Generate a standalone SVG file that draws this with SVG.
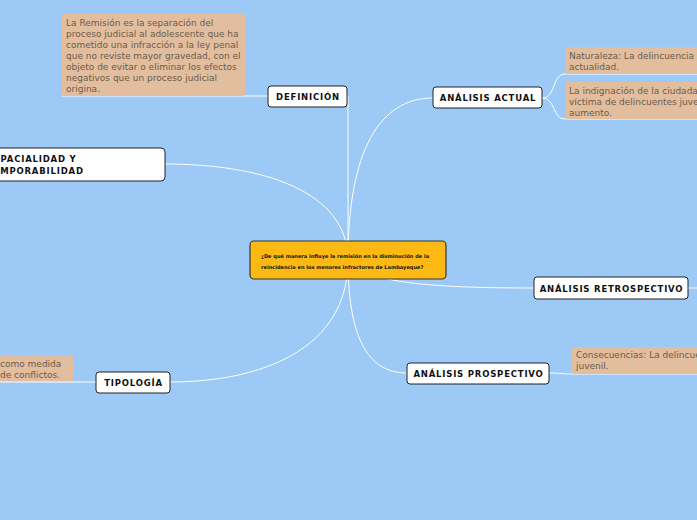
<svg xmlns="http://www.w3.org/2000/svg" width="697" height="520" viewBox="0 0 697 520">
<style>
.box{fill:#fff;stroke:#222;stroke-width:1}
.lbl{font-family:"DejaVu Sans",Verdana,sans-serif;font-weight:bold;font-size:8.5px;letter-spacing:0.8px;fill:#111}
.note{fill:#e3be9e}
.nt{font-family:"DejaVu Sans",Verdana,sans-serif;font-size:9px;fill:#6b5b4c}
.con{fill:none;stroke:#fff;stroke-width:1}
.ct{font-family:"DejaVu Sans",Verdana,sans-serif;font-weight:bold;font-size:5.05px;fill:#111}
</style>
<rect width="697" height="520" fill="#9cc9f5"/>
<g id="connectors">
<path class="con" d="M348,260 C348,200 348,130 348,96 L347,96"/>
<path class="con" d="M348,260 C348,190 260,164 165,164"/>
<path class="con" d="M348,260 C348,150 380,98 433,98"/>
<path class="con" d="M348,260 C365,284 440,288 534,288"/>
<path class="con" d="M688,288 L697,288"/>
<path class="con" d="M348,260 C348,345 372,373 407,373"/>
<path class="con" d="M348,260 C348,350 260,382 170,382"/>
<path class="con" d="M268,96 L62,96"/>
<path class="con" d="M96,382 L0,382"/>
<path class="con" d="M542,98 C556,98 552,74 565,74 L697,74"/>
<path class="con" d="M542,98 C556,98 552,119 565,119 L697,119"/>
<path class="con" d="M549,373 C560,373 562,374 572,374 L697,374"/>
</g>
<g id="note-definicion">
<rect class="note" x="62" y="14" width="183" height="82" rx="2"/>
<text class="nt" x="66" y="26">La Remisión es la separación del</text>
<text class="nt" x="66" y="37">proceso judicial al adolescente que ha</text>
<text class="nt" x="66" y="48">cometido una infracción a la ley penal</text>
<text class="nt" x="66" y="59">que no reviste mayor gravedad, con el</text>
<text class="nt" x="66" y="70">objeto de evitar o eliminar los efectos</text>
<text class="nt" x="66" y="81">negativos que un proceso judicial</text>
<text class="nt" x="66" y="92">origina.</text>
</g>
<g id="definicion">
<rect class="box" x="268" y="86" width="79" height="21" rx="3"/>
<text class="lbl" x="308" y="100" text-anchor="middle">DEFINICIÓN</text>
</g>
<g id="espacialidad">
<rect class="box" x="-20" y="148" width="185" height="33" rx="4"/>
<text class="lbl" x="-13" y="162">ESPACIALIDAD Y</text>
<text class="lbl" x="-13" y="174">TEMPORABILIDAD</text>
</g>
<g id="analisis-actual">
<rect class="box" x="433" y="87" width="109" height="21" rx="3"/>
<text class="lbl" x="488" y="101" text-anchor="middle">ANÁLISIS ACTUAL</text>
</g>
<g id="note-naturaleza">
<rect class="note" x="565" y="47" width="140" height="27" rx="2"/>
<text class="nt" x="569" y="59">Naturaleza: La delincuencia</text>
<text class="nt" x="569" y="70">actualidad.</text>
</g>
<g id="note-indignacion">
<rect class="note" x="565" y="82" width="140" height="37" rx="2"/>
<text class="nt" x="569" y="94">La indignación de la ciudada</text>
<text class="nt" x="569" y="105">víctima de delincuentes juve</text>
<text class="nt" x="569" y="116">aumento.</text>
</g>
<g id="analisis-retrospectivo">
<rect class="box" x="534" y="277" width="154" height="22" rx="3"/>
<text class="lbl" x="611.5" y="291.5" text-anchor="middle">ANÁLISIS RETROSPECTIVO</text>
</g>
<g id="analisis-prospectivo">
<rect class="box" x="407" y="363" width="142" height="21" rx="3"/>
<text class="lbl" x="478.5" y="377" text-anchor="middle">ANÁLISIS PROSPECTIVO</text>
</g>
<g id="note-consecuencias">
<rect class="note" x="572" y="347" width="135" height="27" rx="2"/>
<text class="nt" x="576" y="358">Consecuencias: La delincue</text>
<text class="nt" x="576" y="369">juvenil.</text>
</g>
<g id="tipologia">
<rect class="box" x="96" y="372" width="74" height="21" rx="3"/>
<text class="lbl" x="133.5" y="386" text-anchor="middle">TIPOLOGÍA</text>
</g>
<g id="note-tipologia">
<rect class="note" x="-20" y="355" width="93" height="26" rx="2"/>
<text class="nt" x="0" y="367">como medida</text>
<text class="nt" x="0" y="378">de conflictos.</text>
</g>
<g id="central">
<rect x="250" y="241" width="196" height="38" rx="4" fill="#fdb913" stroke="#333" stroke-width="1.2"/>
<text class="ct" x="261" y="258">¿De qué manera influye la remisión en la disminución de la</text>
<text class="ct" x="261" y="269">reincidencia en los menores infractores de Lambayeque?</text>
</g>
</svg>
